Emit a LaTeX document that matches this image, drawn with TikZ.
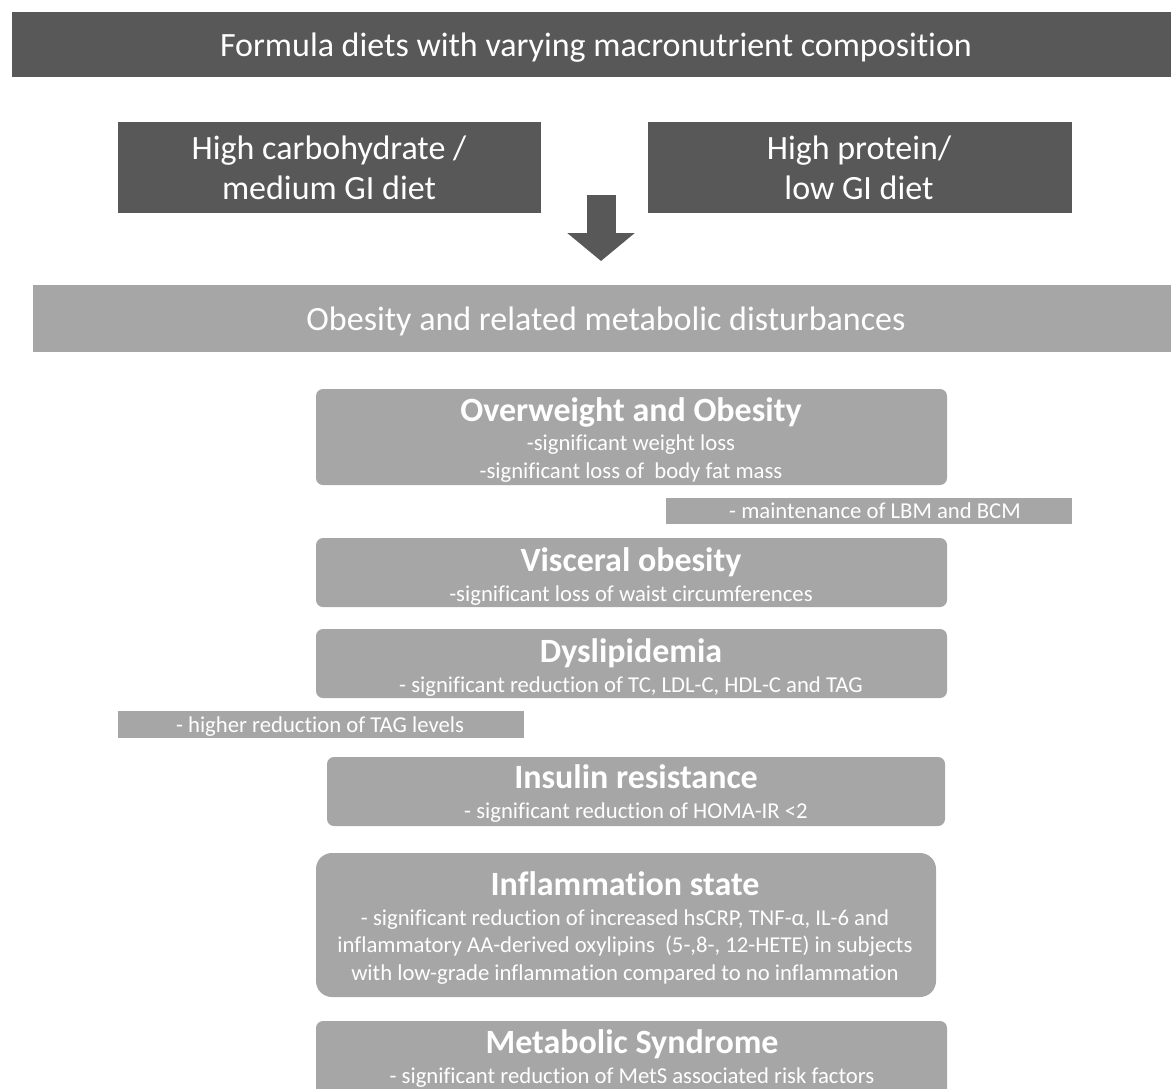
\documentclass[tikz,border=0pt]{standalone}
\usepackage{fontspec}
\setmainfont{Carlito}[Ligatures=NoCommon]
\usetikzlibrary{arrows.meta}
\definecolor{uuuuuu}{rgb}{0.345,0.345,0.345}
\definecolor{aaaaaa}{rgb}{0.65,0.65,0.65}
\begin{document}
\begin{tikzpicture}[line cap=round,line join=round,x=1pt,y=-1pt,
  dkbox/.style={fill=uuuuuu,draw=none,inner sep=0pt},
  ltbox/.style={fill=aaaaaa,draw=none,inner sep=0pt,rounded corners=7pt},
  big/.style={white,anchor=base,font=\fontsize{34}{40}\selectfont},
  ttl/.style={white,anchor=base,font=\fontsize{34}{40}\selectfont\bfseries},
  sub/.style={white,anchor=base,font=\fontsize{22.7}{27}\selectfont}]
\useasboundingbox (0,0) rectangle (1171,1088);
\clip (0,0) rectangle (1171,1088);
% upper part
\node[dkbox,minimum width=1170,minimum height=65] (formula) at (597,44.5) {};
\node[big] (formulaT) at (596,56) {Formula diets with varying macronutrient composition};
\node[dkbox,minimum width=423,minimum height=91] (carb) at (329.5,167.5) {};
\node[big] (carbA) at (329,159) {High carbohydrate /};
\node[big] (carbB) at (329,199) {medium GI diet};
\node[dkbox,minimum width=424,minimum height=91] (prot) at (860,167.5) {};
\node[big] (protA) at (859,159) {High protein/};
\node[big] (protB) at (859,199) {low GI diet};
\coordinate (arrtop) at (601,195);
\coordinate (arrtip) at (601,261);
\draw[uuuuuu,line width=29pt,line cap=butt,-{Triangle[length=28pt,width=66pt]}] (arrtop) -- (arrtip);
\node[dkbox,fill=aaaaaa,minimum width=1140,minimum height=67] (obes) at (603,318.5) {};
\node[big] (obesT) at (606,330) {Obesity and related metabolic disturbances};
% lower part
\node[ltbox,minimum width=631,minimum height=96] (over) at (631.5,437) {};
\node[ttl] (overT) at (631,421) {Overweight and Obesity};
\node[sub] (overA) at (631,450) {-significant weight loss};
\node[sub] (overB) at (631,478) {-significant loss of\ \ body fat mass};
\node[dkbox,fill=aaaaaa,minimum width=406,minimum height=26] (lbm) at (869,511) {};
\node[sub] (lbmT) at (875,518) {- maintenance of LBM and BCM};
\node[ltbox,minimum width=631,minimum height=69] (visc) at (631.5,572.5) {};
\node[ttl] (viscT) at (631,571) {Visceral obesity};
\node[sub] (viscA) at (631,601) {-significant loss of waist circumferences};
\node[ltbox,minimum width=631,minimum height=69] (dysl) at (631.5,663.5) {};
\node[ttl] (dyslT) at (631,662) {Dyslipidemia};
\node[sub] (dyslA) at (631,692) {- significant reduction of TC, LDL-C, HDL-C and TAG};
\node[dkbox,fill=aaaaaa,minimum width=406,minimum height=27] (tag) at (321,724.5) {};
\node[sub] (tagT) at (320,732) {- higher reduction of TAG levels};
\node[ltbox,minimum width=618,minimum height=69] (insu) at (636,791.5) {};
\node[ttl] (insuT) at (636,788) {Insulin resistance};
\node[sub] (insuA) at (636,818) {- significant reduction of HOMA-IR <2};
\node[ltbox,rounded corners=16pt,minimum width=620,minimum height=144] (infl) at (626,925) {};
\node[ttl] (inflT) at (625,895) {Inflammation state};
\node[sub] (inflA) at (625,925) {- significant reduction of increased hsCRP, TNF-α, IL-6 and};
\node[sub] (inflB) at (625,952) {inflammatory AA-derived oxylipins\ \ (5-,8-, 12-HETE) in subjects};
\node[sub] (inflC) at (625,980) {with low-grade inflammation compared to no inflammation};
\node[ltbox,minimum width=631,minimum height=80] (mets) at (631.5,1061) {};
\node[ttl] (metsT) at (632,1053) {Metabolic Syndrome};
\node[sub] (metsA) at (632,1083) {- significant reduction of MetS associated risk factors};
\end{tikzpicture}
\end{document}
